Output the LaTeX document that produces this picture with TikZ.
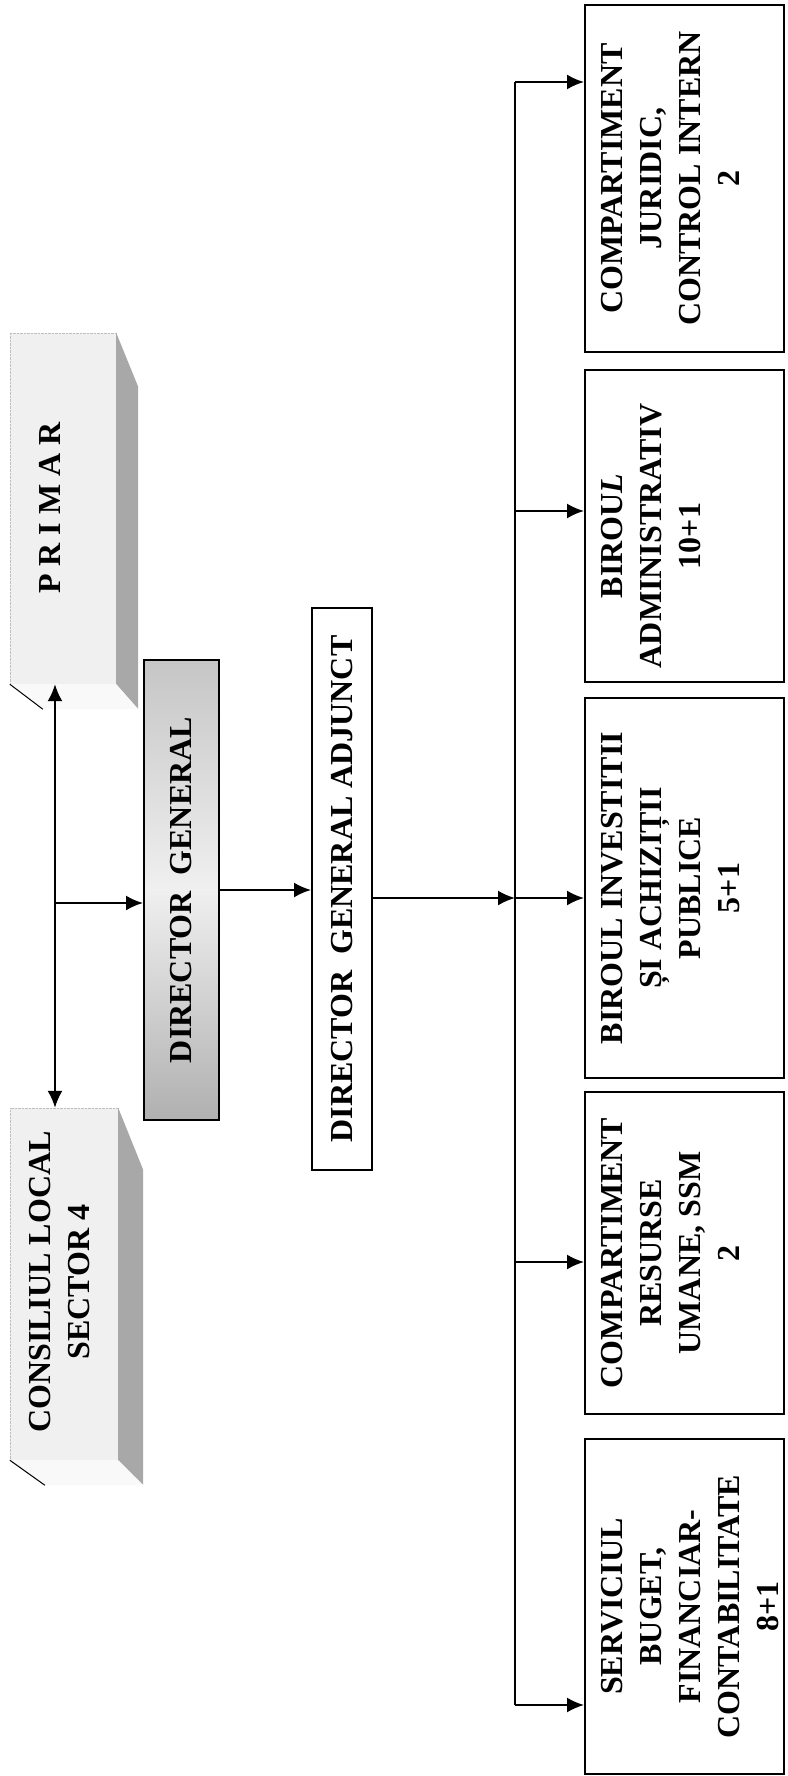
\documentclass[tikz,border=0pt]{standalone}
\usepackage{fontspec}
\setmainfont{Liberation Serif}
\usepackage{tikz}
\usetikzlibrary{arrows.meta,positioning,calc}
\tikzstyle{edge}=[
	-,
	draw=black,
	line width=2pt
]
\tikzstyle{arrow}=[
	edge,
	-{Latex[length=17pt,width=15pt]}
]
\tikzstyle{dblarrow}=[
	edge,
	{Latex[length=17pt,width=15pt]}-{Latex[length=17pt,width=15pt]}
]
\tikzstyle{lbl}=[
	font=\fontsize{32}{39}\selectfont\bfseries,
	align=center,
	rotate=90,
	inner sep=0pt
]
\tikzstyle{unit}=[
	draw=black,
	line width=2pt,
	fill=white,
	inner sep=0pt,
	minimum width=199pt
]
\tikzstyle{front}=[
	draw=gray!50,
	densely dotted,
	fill=gray!12,
	inner sep=0pt
]
\tikzstyle{side}=[
	fill=gray!68
]
\tikzstyle{bevel}=[
	fill=gray!5
]
\tikzstyle{head}=[
	lbl,
	draw=black,
	line width=2pt
]

\begin{document}
\begin{tikzpicture}[x=1pt, y=-1pt]
\useasboundingbox (0,0) rectangle (787,1776);

\node[front, minimum width=106pt, minimum height=351pt] (primar) at (63,508.5) {};
\fill[side] (primar.north east) -- ++(22,54) -- ++(0,322) -- (primar.south east) -- cycle;
\fill[bevel] (primar.south west) -- ++(33,25) -- ++(95,0) -- (primar.south east) -- cycle;
\draw[line width=1pt] (primar.south west) -- ++(33,25);
\node[lbl] (primartxt) at (50,508) {P R I M A R};

\node[front, minimum width=108pt, minimum height=352pt] (consiliul) at (64,1284) {};
\fill[side] (consiliul.north east) -- ++(25,62) -- ++(0,315) -- (consiliul.south east) -- cycle;
\fill[bevel] (consiliul.south west) -- ++(35,25) -- ++(98,0) -- (consiliul.south east) -- cycle;
\draw[line width=1pt] (consiliul.south west) -- ++(35,25);
\node[lbl] (consiliultxt) at (60,1282) {CONSILIUL LOCAL\\SECTOR 4};

\node[head, minimum width=460pt, minimum height=75pt,
      top color=gray!45, bottom color=gray!62, middle color=gray!12] (dg) at (181.5,890) {DIRECTOR\ \ GENERAL};
\node[head, fill=white, minimum width=562pt, minimum height=60pt] (dga) at (342,889) {DIRECTOR\ \ GENERAL ADJUNCT};

\node[unit, minimum height=347pt] (jur) at (684.5,178.5) {};
\node[unit, minimum height=312pt] (adm) at (684.5,526) {};
\node[unit, minimum height=380pt] (inv) at (684.5,888) {};
\node[unit, minimum height=322pt] (ru) at (684.5,1253) {};
\node[unit, minimum height=335pt] (bug) at (684.5,1606.5) {};

\node[lbl, anchor=north] (jurtxt) at ($(jur.west)+(17,0)$) {COMPARTIMENT\\JURIDIC,\\CONTROL INTERN\\2};
\node[lbl, anchor=north] (admtxt) at ($(adm.west)+(17,10)$) {BIROU\textit{L}\\ADMINISTRATIV\\10+1};
\node[lbl, anchor=north] (invtxt) at ($(inv.west)+(17,0)$) {BIROUL INVESTITII\\ȘI ACHIZIȚII\\PUBLICE\\5+1};
\node[lbl, anchor=north] (rutxt) at ($(ru.west)+(17,0)$) {COMPARTIMENT\\RESURSE\\UMANE, SSM\\2};
\node[lbl, anchor=north] (bugtxt) at ($(bug.west)+(17,0)$) {SERVICIUL\\BUGET,\\FINANCIAR-\\CONTABILITATE\\8+1};

\coordinate (j1) at (55,903);
\coordinate (b1) at (515,82);
\coordinate (b2) at (515,511);
\coordinate (b3) at (515,898);
\coordinate (b4) at (515,1262);
\coordinate (b5) at (515,1705);

\draw[dblarrow] (consiliul.north -| j1) to (primar.south -| j1);
\draw[arrow] (j1) to (j1 -| dg.north);
\draw[arrow] (dg.south) to (dg.south -| dga.north);
\draw[arrow] (dga.south |- b3) to (b3);
\draw[edge] (b1) to (b5);

\draw[arrow] (b1) to (b1 -| jur.west);
\draw[arrow] (b2) to (b2 -| adm.west);
\draw[arrow] (b3) to (b3 -| inv.west);
\draw[arrow] (b4) to (b4 -| ru.west);
\draw[arrow] (b5) to (b5 -| bug.west);
\end{tikzpicture}
\end{document}
